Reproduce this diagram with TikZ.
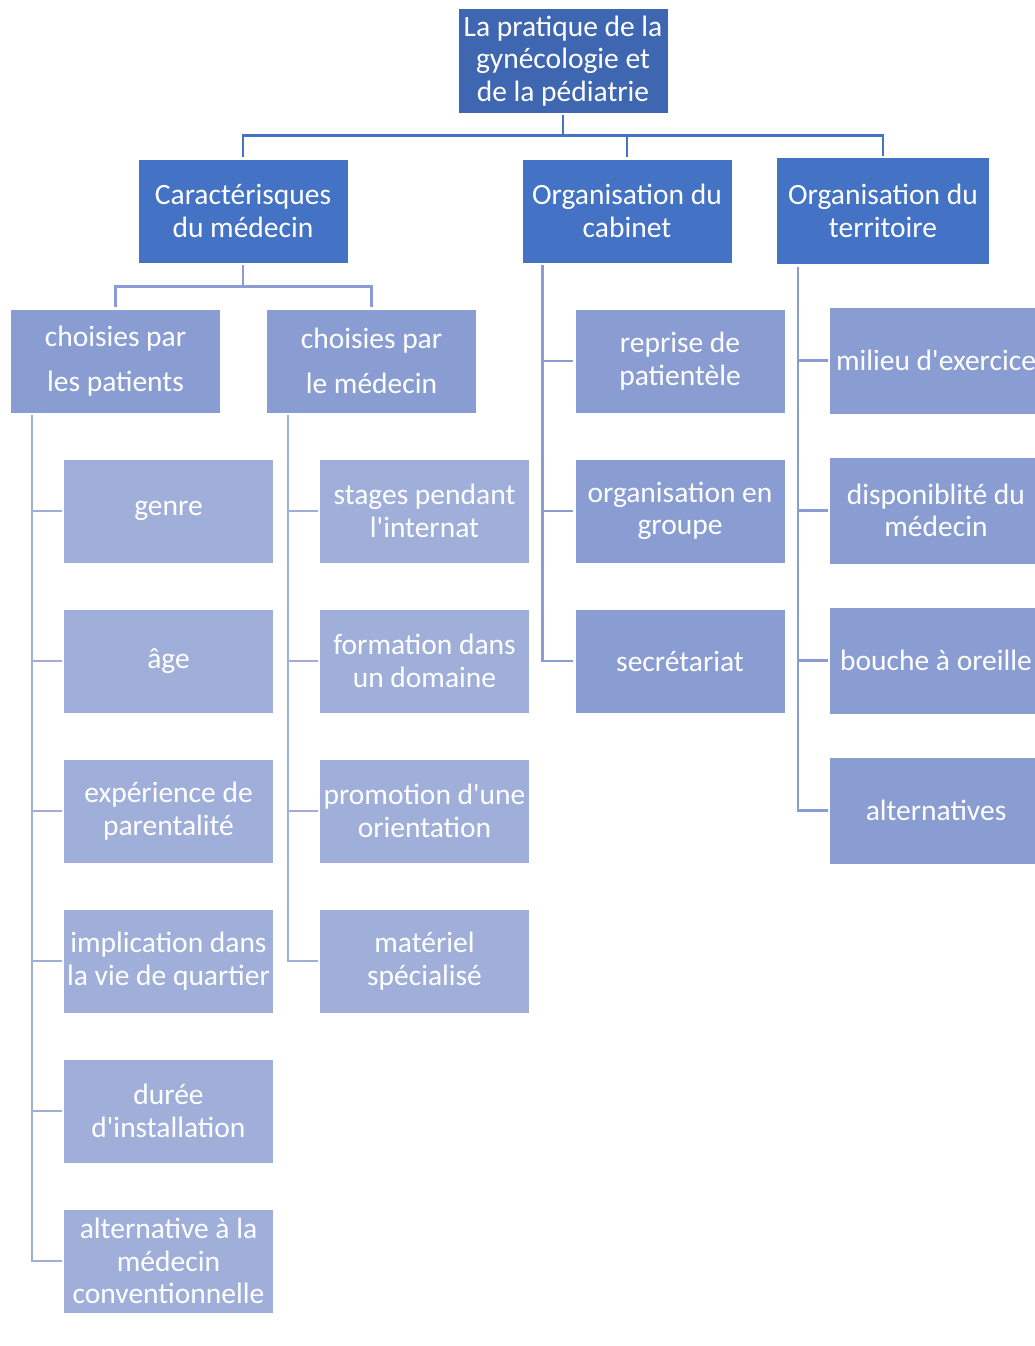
\documentclass[tikz,border=0pt]{standalone}
\usepackage{fontspec}
\setmainfont{Carlito}
\usetikzlibrary{positioning}
\definecolor{racine}{HTML}{3F66B0}
\definecolor{niveauA}{HTML}{4472C4}
\definecolor{niveauB}{HTML}{8A9DD2}
\definecolor{niveauC}{HTML}{9FAFDA}
\newcommand{\apostrophe}{\textquotesingle}
\tikzset{
  box/.style={rectangle, text=white, align=center, minimum width=209pt, minimum height=103pt, inner sep=0pt, outer sep=2.5pt},
  rootBox/.style={box, fill=racine},
  topBox/.style={box, fill=niveauA},
  midBox/.style={box, fill=niveauB},
  wideBox/.style={midBox, minimum width=212pt, minimum height=106pt},
  leaf/.style={box, fill=niveauC},
  topLink/.style={draw=niveauA, line width=2.5pt},
  midLink/.style={draw=niveauB, line width=2.5pt},
  leafLink/.style={draw=niveauC, line width=2.5pt}
}

\begin{document}
\begin{tikzpicture}[x=1pt, y=-1pt, font={\fontsize{29.5}{32.5}\selectfont}]
      \useasboundingbox (0,0) rectangle (1035,1346);

      \node[rootBox] (pratique) at (563,61) {La pratique de la\\gynécologie et\\de la pédiatrie};

      \node[topBox] (carac) at (243,211) {Caractérisques\\du médecin};
      \node[topBox] (cabinet) at (627,211) {Organisation du\\cabinet};
      \node[topBox, minimum width=212pt, minimum height=106pt] (territoire) at (883,211) {Organisation du\\territoire};

      \foreach \enfant in {carac,cabinet,territoire}
        \draw[topLink] (pratique.south) -- ++(0,20.5) -| (\enfant.north);

      % caracteristiques du medecin
      \node[midBox] (patients) at (115.5,361) {choisies par\\[12.5pt]les patients};
      \node[midBox] (medecin) at (371.5,361) {choisies par\\[12.5pt]le médecin};
      \foreach \enfant in {patients,medecin}
        \draw[midLink] (carac.south) -- ++(0,21.5) -| (\enfant.north);

      \foreach \nom/\texte [count=\i from 0] in {genre/genre, age/âge,
          parent/{expérience de\\parentalité}, quartier/{implication dans\\la vie de quartier},
          duree/{durée\\d\apostrophe installation}, altmed/{alternative à la\\médecin\\conventionnelle}}
      {
        \node[leaf] (\nom) at (168.5,{511+150*\i}) {\texte};
        \draw[leafLink] ([xshift=23.5pt]patients.south west) |- (\nom.west);
      }

      \foreach \nom/\texte [count=\i from 0] in {stages/{stages pendant\\l\apostrophe internat},
          formation/{formation dans\\un domaine}, promotion/{promotion d\apostrophe une\\orientation},
          materiel/{matériel\\spécialisé}}
      {
        \node[leaf] (\nom) at (424.5,{511+150*\i}) {\texte};
        \draw[leafLink] ([xshift=23.5pt]medecin.south west) |- (\nom.west);
      }

      % cabinet
      \foreach \nom/\texte [count=\i from 0] in {reprise/{reprise de\\patientèle},
          groupe/{organisation en\\groupe}, secretariat/secrétariat}
      {
        \node[midBox] (\nom) at (680,{361+150*\i}) {\texte};
        \draw[midLink] ([xshift=22.5pt]cabinet.south west) |- (\nom.west);
      }

      % territoire
      \foreach \nom/\texte [count=\i from 0] in {milieu/{milieu d\apostrophe exercice},
          dispo/{disponiblité du\\médecin}, bouche/{bouche à oreille},
          alternatives/alternatives}
      {
        \node[wideBox] (\nom) at (936,{360.5+150*\i}) {\texte};
        \draw[midLink] ([xshift=23.5pt]territoire.south west) |- (\nom.west);
      }

\end{tikzpicture}
\end{document}
